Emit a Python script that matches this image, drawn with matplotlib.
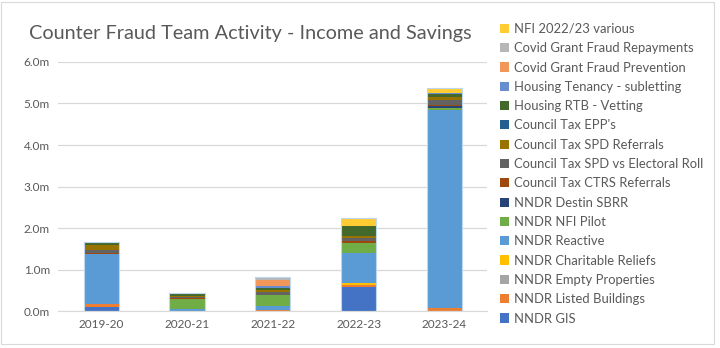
import matplotlib
matplotlib.use("Agg")
import matplotlib.pyplot as plt
from matplotlib.ticker import FuncFormatter
from matplotlib.patches import Rectangle

plt.rcParams['font.family'] = ['Lato', 'DejaVu Sans']

years = ["2019-20", "2020-21", "2021-22", "2022-23", "2023-24"]

# values in £m, bottom of stack first
nndr_gis = [0.10, 0.00, 0.00, 0.59, 0.00]
nndr_listed = [0.06, 0.00, 0.03, 0.05, 0.065]
nndr_empty = [0.00, 0.00, 0.00, 0.00, 0.00]
nndr_charitable = [0.00, 0.00, 0.00, 0.03, 0.00]
nndr_reactive = [1.22, 0.06, 0.10, 0.74, 4.78]
nndr_nfi_pilot = [0.00, 0.23, 0.26, 0.23, 0.05]
nndr_destin = [0.00, 0.00, 0.00, 0.00, 0.05]
ct_ctrs = [0.02, 0.02, 0.00, 0.04, 0.01]
ct_spd_roll = [0.08, 0.04, 0.08, 0.08, 0.14]
ct_spd_ref = [0.10, 0.02, 0.05, 0.05, 0.06]
ct_epp = [0.00, 0.00, 0.00, 0.00, 0.00]
housing_rtb = [0.08, 0.05, 0.04, 0.24, 0.08]
housing_tenancy = [0.00, 0.01, 0.05, 0.00, 0.02]
covid_prevention = [0.00, 0.00, 0.14, 0.00, 0.00]
covid_repayments = [0.00, 0.00, 0.06, 0.00, 0.00]
nfi_various = [0.00, 0.00, 0.00, 0.19, 0.12]

series = [
    ("NNDR GIS", nndr_gis, "#4472C4"),
    ("NNDR Listed Buildings", nndr_listed, "#ED7D31"),
    ("NNDR Empty Properties", nndr_empty, "#A5A5A5"),
    ("NNDR Charitable Reliefs", nndr_charitable, "#FFC000"),
    ("NNDR Reactive", nndr_reactive, "#5B9BD5"),
    ("NNDR NFI Pilot", nndr_nfi_pilot, "#70AD47"),
    ("NNDR Destin SBRR", nndr_destin, "#264478"),
    ("Council Tax CTRS Referrals", ct_ctrs, "#9E480E"),
    ("Council Tax SPD vs Electoral Roll", ct_spd_roll, "#636363"),
    ("Council Tax SPD Referrals", ct_spd_ref, "#997300"),
    ("Council Tax EPP's", ct_epp, "#255E91"),
    ("Housing RTB - Vetting", housing_rtb, "#43682B"),
    ("Housing Tenancy - subletting", housing_tenancy, "#698ED0"),
    ("Covid Grant Fraud Prevention", covid_prevention, "#F1975A"),
    ("Covid Grant Fraud Repayments", covid_repayments, "#B7B7B7"),
    ("NFI 2022/23 various", nfi_various, "#FFCD33"),
]

fig = plt.figure(figsize=(7.2, 3.48), dpi=100)
fig.patches.append(Rectangle((0.002, 0.012), 0.99, 0.982, transform=fig.transFigure,
                             fill=False, edgecolor="#D9D9D9", linewidth=0.8))
ax = fig.add_axes([0.081, 0.106, 0.596, 0.716])

x = range(len(years))
bottom = [0.0] * len(years)
handles = []
for name, vals, col in series:
    b = ax.bar(x, vals, 0.41, bottom=bottom, color=col, label=name, linewidth=0)
    handles.append(b)
    bottom = [bo + v for bo, v in zip(bottom, vals)]

# light outline around each whole column, like the Excel original
ax.bar(x, bottom, 0.41, fill=False, edgecolor="#BDD7EE", linewidth=0.8)

ax.set_ylim(0, 6)
ax.set_xlim(-0.5, 4.5)
ax.set_yticks([0, 1, 2, 3, 4, 5, 6])
ax.yaxis.set_major_formatter(FuncFormatter(lambda v, p: f"{v:.1f}m"))
ax.set_xticks(list(x))
ax.set_xticklabels(years)
ax.grid(axis="y", color="#D9D9D9", linewidth=0.9)
ax.set_axisbelow(True)
for s in ["top", "right", "left"]:
    ax.spines[s].set_visible(False)
ax.spines["bottom"].set_color("#D9D9D9")
ax.tick_params(axis="both", length=0, labelsize=8.5, colors="#595959", pad=6)

fig.text(0.347, 0.905, "Counter Fraud Team Activity - Income and Savings",
         ha="center", va="center", fontsize=14.3, color="#595959")

leg = fig.legend(handles[::-1], [s[0] for s in series][::-1],
                 loc="upper left", bbox_to_anchor=(0.678, 0.968),
                 frameon=False, fontsize=9.4, labelspacing=0.56,
                 handlelength=0.7, handleheight=0.7, handletextpad=0.4)
for t in leg.get_texts():
    t.set_color("#595959")

fig.savefig("out.png", dpi=100)
